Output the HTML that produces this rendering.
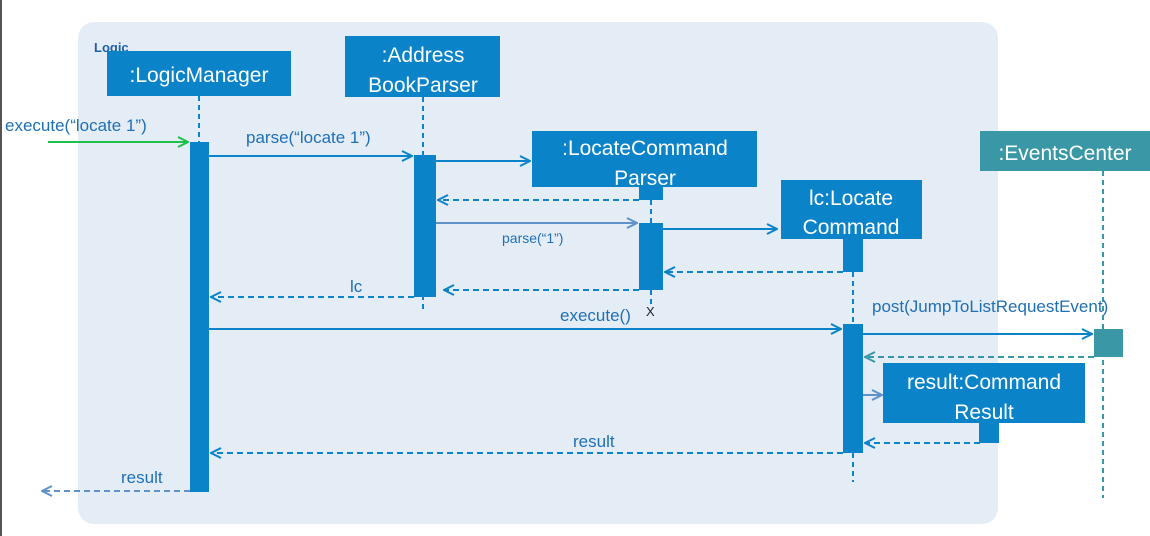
<!DOCTYPE html>
<html><head><meta charset="utf-8"><style>
html,body{margin:0;padding:0;background:#fff;}
svg{display:block;}
text{font-family:"Liberation Sans",sans-serif;}
</style></head><body>
<svg width="1150" height="536" viewBox="0 0 1150 536" xmlns="http://www.w3.org/2000/svg">
<defs>
<marker id="a" viewBox="0 0 12 12" refX="11" refY="6" markerWidth="12" markerHeight="12" markerUnits="userSpaceOnUse" orient="auto"><path d="M1,1 L11,6 L1,11" fill="none" stroke="#0a83c9" stroke-width="2"/></marker>
<marker id="g" viewBox="0 0 12 12" refX="11" refY="6" markerWidth="12" markerHeight="12" markerUnits="userSpaceOnUse" orient="auto"><path d="M1,1 L11,6 L1,11" fill="none" stroke="#1fbf4a" stroke-width="2"/></marker>
<marker id="l" viewBox="0 0 12 12" refX="11" refY="6" markerWidth="12" markerHeight="12" markerUnits="userSpaceOnUse" orient="auto"><path d="M1,1 L11,6 L1,11" fill="none" stroke="#5e92c8" stroke-width="2"/></marker>
<marker id="t" viewBox="0 0 12 12" refX="11" refY="6" markerWidth="12" markerHeight="12" markerUnits="userSpaceOnUse" orient="auto"><path d="M1,1 L11,6 L1,11" fill="none" stroke="#3a97a6" stroke-width="2"/></marker>
</defs>
<rect x="0" y="0" width="2" height="536" fill="#555"/>
<rect x="78" y="22" width="920" height="502" rx="16" fill="#e4edf6"/>
<text x="94" y="52" font-size="13" font-weight="bold" fill="#1f5fa8">Logic</text>

<g stroke="#0a83c9" stroke-width="2" stroke-dasharray="5,4" fill="none">
<line x1="199" y1="96" x2="199" y2="142"/>
<line x1="423" y1="97" x2="423" y2="310"/>
<line x1="651" y1="200" x2="651" y2="223"/>
<line x1="651" y1="290" x2="651" y2="306"/>
<line x1="853" y1="272" x2="853" y2="325"/>
<line x1="853" y1="453" x2="853" y2="482"/>
</g>
<line x1="1103" y1="171" x2="1103" y2="498" stroke="#3a97a6" stroke-width="2" stroke-dasharray="5,4"/>

<g fill="#0a83c9">
<rect x="107" y="51" width="184" height="45"/>
<rect x="345" y="36" width="155" height="61"/>
<rect x="532" y="131" width="225" height="56"/>
<rect x="781" y="180" width="141" height="59"/>
<rect x="883" y="363" width="202" height="60"/>
<rect x="190" y="142" width="19" height="350"/>
<rect x="414" y="155" width="22" height="142"/>
<rect x="639" y="187" width="24" height="13"/>
<rect x="639" y="223" width="24" height="67"/>
<rect x="843" y="239" width="20" height="33"/>
<rect x="843" y="324" width="20" height="129"/>
<rect x="979" y="423" width="20" height="20"/>
</g>
<rect x="980" y="131" width="170" height="40" fill="#3a97a6"/>
<rect x="1094" y="329" width="29" height="28" fill="#3a97a6"/>

<g fill="#fff" font-size="21" text-anchor="middle">
<text x="199" y="82">:LogicManager</text>
<text x="423" y="62">:Address</text>
<text x="423" y="92">BookParser</text>
<text x="645" y="155">:LocateCommand</text>
<text x="645" y="185">Parser</text>
<text x="851" y="205">lc:Locate</text>
<text x="851" y="234">Command</text>
<text x="1065" y="160">:EventsCenter</text>
<text x="984" y="389">result:Command</text>
<text x="984" y="419">Result</text>
</g>

<line x1="48" y1="142" x2="188" y2="142" stroke="#1fbf4a" stroke-width="2" marker-end="url(#g)"/>
<g stroke="#0a83c9" stroke-width="2" fill="none">
<line x1="209" y1="156" x2="412" y2="156" marker-end="url(#a)"/>
<line x1="436" y1="161" x2="530" y2="161" marker-end="url(#a)"/>
<line x1="663" y1="229" x2="777" y2="229" marker-end="url(#a)"/>
<line x1="209" y1="329" x2="841" y2="329" marker-end="url(#a)"/>
<line x1="863" y1="334" x2="1092" y2="334" marker-end="url(#a)"/>
<g stroke-dasharray="6,4">
<line x1="639" y1="200" x2="438" y2="200" marker-end="url(#a)"/>
<line x1="843" y1="272" x2="665" y2="272" marker-end="url(#a)"/>
<line x1="639" y1="290" x2="444" y2="290" marker-end="url(#a)"/>
<line x1="414" y1="297" x2="211" y2="297" marker-end="url(#a)"/>
<line x1="980" y1="443" x2="865" y2="443" marker-end="url(#a)"/>
<line x1="843" y1="453" x2="211" y2="453" marker-end="url(#a)"/>
</g>
</g>
<line x1="436" y1="223" x2="637" y2="223" stroke="#5e92c8" stroke-width="2" marker-end="url(#l)"/>
<line x1="863" y1="395" x2="882" y2="395" stroke="#5e92c8" stroke-width="2" marker-end="url(#l)"/>
<line x1="1094" y1="357" x2="865" y2="357" stroke="#3a97a6" stroke-width="2" stroke-dasharray="6,4" marker-end="url(#t)"/>
<line x1="190" y1="491" x2="42" y2="491" stroke="#5e92c8" stroke-width="2" stroke-dasharray="6,4" marker-end="url(#l)"/>

<g fill="#1f6fb5" font-size="17">
<text x="5" y="131">execute(“locate 1”)</text>
<text x="246" y="143">parse(“locate 1”)</text>
<text x="502" y="243" font-size="14">parse(“1”)</text>
<text x="350" y="292">lc</text>
<text x="560" y="321">execute()</text>
<text x="872" y="312">post(JumpToListRequestEvent)</text>
<text x="573" y="447">result</text>
<text x="121" y="483">result</text>
</g>
<text x="646" y="316" font-size="13" fill="#222">X</text>
</svg>
</body></html>
